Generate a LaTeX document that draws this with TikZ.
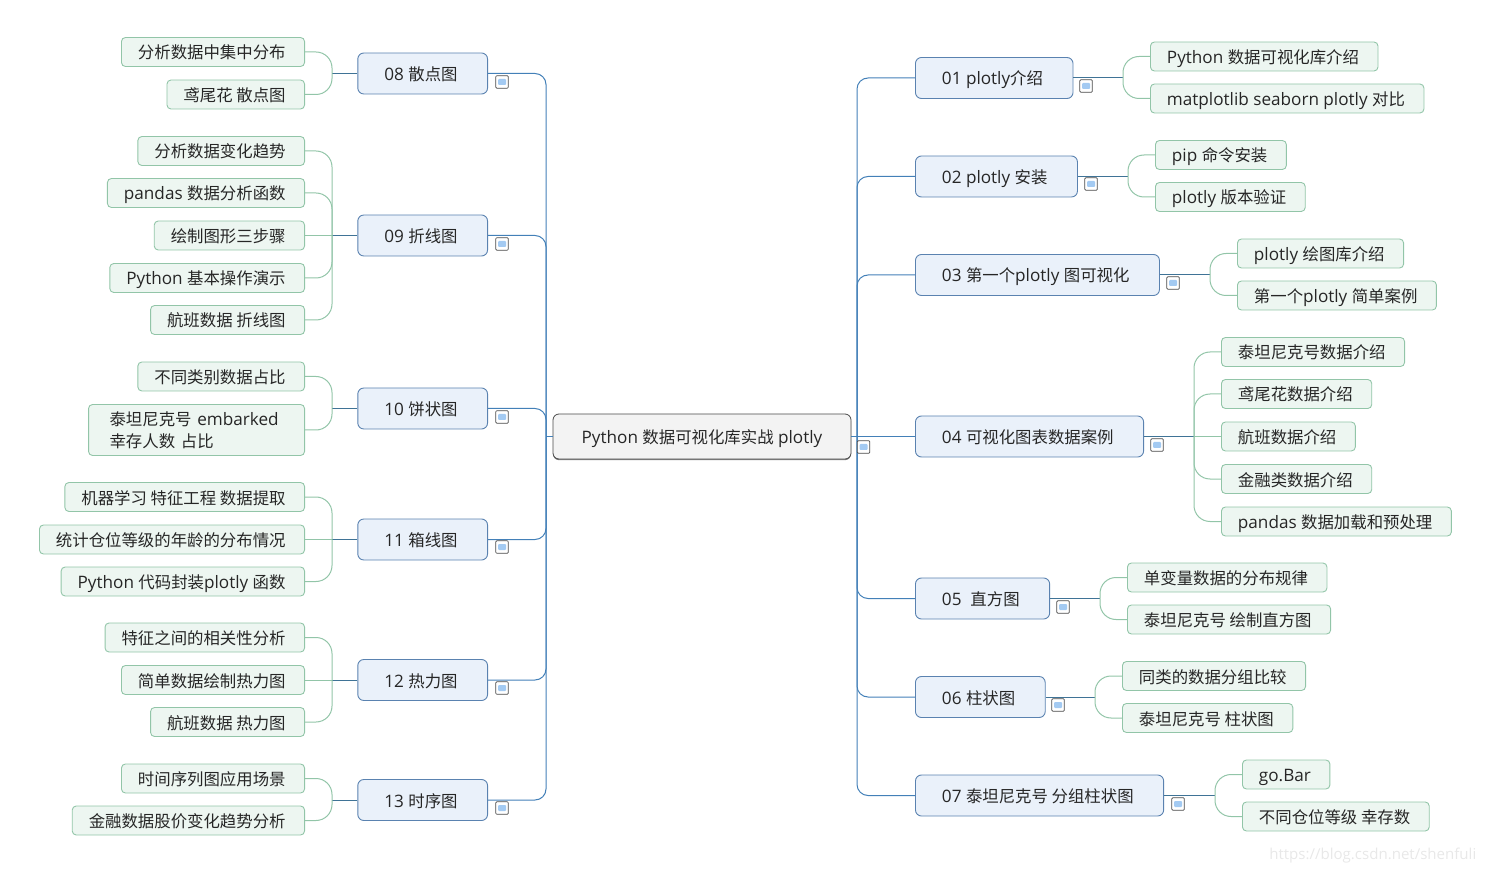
\documentclass[tikz,border=0pt]{standalone}
\usepackage{fontspec}
\setmainfont[Scale=1.045]{Open Sans}
\newfontfamily\cjkfont{Noto Sans CJK SC}
\newcommand{\zh}[1]{{\cjkfont #1}}
\usetikzlibrary{shadows}
\definecolor{rootline}{HTML}{4A4A4A}
\definecolor{rootfill}{HTML}{F3F3F3}
\definecolor{mainline}{HTML}{4380B8}
\definecolor{subfill}{HTML}{EAF1FA}
\definecolor{subline}{HTML}{5A82B0}
\definecolor{stemline}{HTML}{3F7396}
\definecolor{leaffill}{HTML}{EDF6F1}
\definecolor{leafline}{HTML}{92C5A8}
\definecolor{inkcolor}{HTML}{262626}
\definecolor{foldfill}{HTML}{A3CAF2}
\tikzset{
	rootbox/.style={draw=rootline,fill=rootfill,rounded corners=6pt,minimum width=298pt,minimum height=45pt,inner sep=0pt,text height=17pt,text depth=3pt,line width=.8pt,drop shadow={shadow xshift=0pt,shadow yshift=-1.2pt,fill=gray,opacity=1}},
	subbox/.style={draw=subline,fill=subfill,rounded corners=6pt,minimum height=41pt,inner xsep=26.5pt,inner ysep=0pt,text height=17pt,text depth=3pt,line width=.9pt,anchor=west,execute at end node={\kern3.5pt}},
	leafbox/.style={draw=leafline,fill=leaffill,rounded corners=4pt,minimum height=29pt,inner xsep=16.5pt,inner ysep=0pt,text height=17pt,text depth=3pt,line width=.9pt,execute at end node={\kern2.5pt}},
	branch/.style={draw=mainline,line width=1pt,rounded corners=11pt},
	stem/.style={draw=stemline,line width=1pt},
	twig/.style={draw=leafline,line width=1pt,rounded corners=16pt},
	foldbox/.style={draw=rootline,fill=white,rounded corners=1pt,minimum size=12.5pt,inner sep=0pt,line width=.7pt,path picture={\fill[foldfill] (-4pt,-3pt) rectangle (4pt,3pt);}}
}
\begin{document}
\begin{tikzpicture}[x=1pt,y=-1pt,font=\fontsize{16.4}{22}\selectfont,text=inkcolor]
	\useasboundingbox (0,0) rectangle (1489,874);

	% centre
	\node[rootbox] (root) at (702,436.5) {Python \zh{数据可视化库实战} plotly};
	\coordinate (rtrunk) at (857,436.5);
	\coordinate (ltrunk) at (546,436.5);
	\draw[branch] (root.east) -- (rtrunk);
	\draw[branch] (root.west) -- (ltrunk);

	% right side
	\node[subbox] (n01) at (915,78) {01 plotly\zh{介绍}};
	\node[subbox] (n02) at (915,176.5) {02 plotly \zh{安装}};
	\node[subbox] (n03) at (915,275) {03 \zh{第一个}plotly \zh{图可视化}};
	\node[subbox] (n04) at (915,436.5) {04 \zh{可视化图表数据案例}};
	\node[subbox] (n05) at (915,598.5) {05 \ \zh{直方图}};
	\node[subbox] (n06) at (915,697) {06 \zh{柱状图}};
	\node[subbox] (n07) at (915,795.5) {07 \zh{泰坦尼克号 分组柱状图}};
	\draw[branch] (rtrunk) |- (n01.west);
	\draw[branch] (rtrunk) |- (n02.west);
	\draw[branch] (rtrunk) |- (n03.west);
	\draw[branch] (rtrunk) -- (n04.west);
	\draw[branch] (rtrunk) |- (n05.west);
	\draw[branch] (rtrunk) |- (n06.west);
	\draw[branch] (rtrunk) |- (n07.west);

	\node[leafbox,anchor=west] (l01a) at (1150,56.5) {Python \zh{数据可视化库介绍}};
	\node[leafbox,anchor=west] (l01b) at (1150,98.5) {matplotlib seaborn plotly \zh{对比}};
	\coordinate (s01) at (1123,78); \draw[stem] (n01.east) -- (s01);
	\draw[twig] (s01) |- (l01a.west); \draw[twig] (s01) |- (l01b.west);

	\node[leafbox,anchor=west] (l02a) at (1155,155) {pip \zh{命令安装}};
	\node[leafbox,anchor=west] (l02b) at (1155,197) {plotly \zh{版本验证}};
	\coordinate (s02) at (1128,176.5); \draw[stem] (n02.east) -- (s02);
	\draw[twig] (s02) |- (l02a.west); \draw[twig] (s02) |- (l02b.west);

	\node[leafbox,anchor=west] (l03a) at (1237,253.5) {plotly \zh{绘图库介绍}};
	\node[leafbox,anchor=west] (l03b) at (1237,295.5) {\zh{第一个}plotly \zh{简单案例}};
	\coordinate (s03) at (1210,275); \draw[stem] (n03.east) -- (s03);
	\draw[twig] (s03) |- (l03a.west); \draw[twig] (s03) |- (l03b.west);

	\node[leafbox,anchor=west] (l04a) at (1221,352) {\zh{泰坦尼克号数据介绍}};
	\node[leafbox,anchor=west] (l04b) at (1221,394) {\zh{鸢尾花数据介绍}};
	\node[leafbox,anchor=west] (l04c) at (1221,436.5) {\zh{航班数据介绍}};
	\node[leafbox,anchor=west] (l04d) at (1221,479) {\zh{金融类数据介绍}};
	\node[leafbox,anchor=west] (l04e) at (1221,521.5) {pandas \zh{数据加载和预处理}};
	\coordinate (s04) at (1194,436.5); \draw[stem] (n04.east) -- (s04);
	\draw[twig] (s04) |- (l04a.west); \draw[twig] (s04) |- (l04b.west); \draw[twig] (s04) -- (l04c.west);
	\draw[twig] (s04) |- (l04d.west); \draw[twig] (s04) |- (l04e.west);

	\node[leafbox,anchor=west] (l05a) at (1127,577.5) {\zh{单变量数据的分布规律}};
	\node[leafbox,anchor=west] (l05b) at (1127,619.5) {\zh{泰坦尼克号 绘制直方图}};
	\coordinate (s05) at (1100,598.5); \draw[stem] (n05.east) -- (s05);
	\draw[twig] (s05) |- (l05a.west); \draw[twig] (s05) |- (l05b.west);

	\node[leafbox,anchor=west] (l06a) at (1122,676) {\zh{同类的数据分组比较}};
	\node[leafbox,anchor=west] (l06b) at (1122,718) {\zh{泰坦尼克号 柱状图}};
	\coordinate (s06) at (1095,697); \draw[stem] (n06.east) -- (s06);
	\draw[twig] (s06) |- (l06a.west); \draw[twig] (s06) |- (l06b.west);

	\node[leafbox,anchor=west] (l07a) at (1242,774.5) {go.Bar};
	\node[leafbox,anchor=west] (l07b) at (1242,816.5) {\zh{不同仓位等级 幸存数}};
	\coordinate (s07) at (1215,795.5); \draw[stem] (n07.east) -- (s07);
	\draw[twig] (s07) |- (l07a.west); \draw[twig] (s07) |- (l07b.west);

	% left side
	\node[subbox,anchor=east] (n08) at (488,73.5) {08 \zh{散点图}};
	\node[subbox,anchor=east] (n09) at (488,235.5) {09 \zh{折线图}};
	\node[subbox,anchor=east] (n10) at (488,408.5) {10 \zh{饼状图}};
	\node[subbox,anchor=east] (n11) at (488,539.5) {11 \zh{箱线图}};
	\node[subbox,anchor=east] (n12) at (488,680) {12 \zh{热力图}};
	\node[subbox,anchor=east] (n13) at (488,800) {13 \zh{时序图}};
	\draw[branch] (ltrunk) |- (n08.east);
	\draw[branch] (ltrunk) |- (n09.east);
	\draw[branch] (ltrunk) |- (n10.east);
	\draw[branch] (ltrunk) |- (n11.east);
	\draw[branch] (ltrunk) |- (n12.east);
	\draw[branch] (ltrunk) |- (n13.east);

	\node[leafbox,anchor=east] (l08a) at (305,52) {\zh{分析数据中集中分布}};
	\node[leafbox,anchor=east] (l08b) at (305,94.5) {\zh{鸢尾花 散点图}};
	\coordinate (s08) at (332,73.5); \draw[stem] (n08.west) -- (s08);
	\draw[twig] (s08) |- (l08a.east); \draw[twig] (s08) |- (l08b.east);

	\node[leafbox,anchor=east] (l09a) at (305,151) {\zh{分析数据变化趋势}};
	\node[leafbox,anchor=east] (l09b) at (305,193) {pandas \zh{数据分析函数}};
	\node[leafbox,anchor=east] (l09c) at (305,235.5) {\zh{绘制图形三步骤}};
	\node[leafbox,anchor=east] (l09d) at (305,278) {Python \zh{基本操作演示}};
	\node[leafbox,anchor=east] (l09e) at (305,320) {\zh{航班数据 折线图}};
	\coordinate (s09) at (332,235.5); \draw[stem] (n09.west) -- (s09);
	\draw[twig] (s09) |- (l09a.east); \draw[twig] (s09) |- (l09b.east); \draw[twig] (s09) -- (l09c.east);
	\draw[twig] (s09) |- (l09d.east); \draw[twig] (s09) |- (l09e.east);

	\node[leafbox,anchor=east] (l10a) at (305,376.5) {\zh{不同类别数据占比}};
	\node[leafbox,anchor=east,inner xsep=21pt,text width=174pt,text height=,text depth=,minimum height=51pt,align=left] (l10b) at (305,430) {\zh{泰坦尼克号} embarked\\\zh{幸存人数 占比}};
	\coordinate (s10) at (332,408.5); \draw[stem] (n10.west) -- (s10);
	\draw[twig] (s10) |- (l10a.east); \draw[twig] (s10) |- (l10b.east);

	\node[leafbox,anchor=east] (l11a) at (305,497) {\zh{机器学习 特征工程 数据提取}};
	\node[leafbox,anchor=east] (l11b) at (305,539.5) {\zh{统计仓位等级的年龄的分布情况}};
	\node[leafbox,anchor=east] (l11c) at (305,581.5) {Python \zh{代码封装}plotly \zh{函数}};
	\coordinate (s11) at (332,539.5); \draw[stem] (n11.west) -- (s11);
	\draw[twig] (s11) |- (l11a.east); \draw[twig] (s11) -- (l11b.east); \draw[twig] (s11) |- (l11c.east);

	\node[leafbox,anchor=east] (l12a) at (305,637.5) {\zh{特征之间的相关性分析}};
	\node[leafbox,anchor=east] (l12b) at (305,680) {\zh{简单数据绘制热力图}};
	\node[leafbox,anchor=east] (l12c) at (305,722) {\zh{航班数据 热力图}};
	\coordinate (s12) at (332,680); \draw[stem] (n12.west) -- (s12);
	\draw[twig] (s12) |- (l12a.east); \draw[twig] (s12) -- (l12b.east); \draw[twig] (s12) |- (l12c.east);

	\node[leafbox,anchor=east] (l13a) at (305,778.5) {\zh{时间序列图应用场景}};
	\node[leafbox,anchor=east] (l13b) at (305,820.5) {\zh{金融数据股价变化趋势分析}};
	\coordinate (s13) at (332,800); \draw[stem] (n13.west) -- (s13);
	\draw[twig] (s13) |- (l13a.east); \draw[twig] (s13) |- (l13b.east);

	% fold marks
	\node[foldbox] (f00) at (863.5,447) {};
	\node[foldbox] (f01) at (1086,86) {};
	\node[foldbox] (f02) at (1091,184) {};
	\node[foldbox] (f03) at (1173,283) {};
	\node[foldbox] (f04) at (1157,445) {};
	\node[foldbox] (f05) at (1063,607) {};
	\node[foldbox] (f06) at (1058,705) {};
	\node[foldbox] (f07) at (1178,804) {};
	\node[foldbox] (f08) at (502,82) {};
	\node[foldbox] (f09) at (502,244) {};
	\node[foldbox] (f10) at (502,417) {};
	\node[foldbox] (f11) at (502,547) {};
	\node[foldbox] (f12) at (502,688) {};
	\node[foldbox] (f13) at (502,808) {};

	\node[text=black!9,anchor=east,font=\fontsize{14.4}{18}\selectfont] (mark) at (1480,855.5) {https://blog.csdn.net/shenfuli};
\end{tikzpicture}
\end{document}
